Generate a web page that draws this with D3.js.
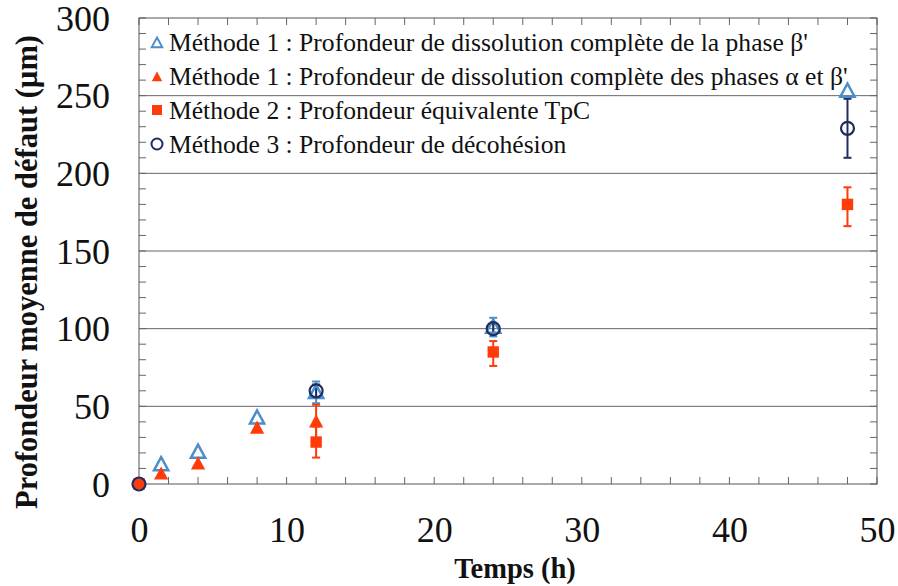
<!DOCTYPE html>
<html>
<head>
<meta charset="utf-8">
<script src="https://cdn.jsdelivr.net/npm/d3@7"></script>
<style>
  body { margin: 0; background: #fff; }
  svg text { font-family: "Liberation Serif", "Times New Roman", serif !important; }
</style>
</head>
<body>
<div id="chart"></div>
<script>
// data
var xTicks = [0, 10, 20, 30, 40, 50];
var yTicks = [0, 50, 100, 150, 200, 250, 300];

var tempsBeta = [1.5, 4, 8, 12, 24, 48];
var profBeta = [12.5, 20.5, 42.5, 59, 101, 253];
var errBeta = [0, 0, 0, 7, 6, 0];

var tempsAlpha = [1.5, 4, 8, 12];
var profAlpha = [6.5, 13, 36, 40];
var errAlpha = [0, 0, 0, 11];

var tempsTpc = [0, 12, 24, 48];
var profTpc = [0, 27, 85, 180];
var errTpcLow = [0, 10, 9, 14];
var errTpcHigh = [0, 10, 7, 11];

var tempsDeco = [0, 12, 24, 48];
var profDeco = [0, 60, 100, 229];
var errDeco = [0, 4, 3, 19];

var legendLabels = [
  "Méthode 1 : Profondeur de dissolution complète de la phase β'",
  "Méthode 1 : Profondeur de dissolution complète des phases α et β'",
  "Méthode 2 : Profondeur équivalente TpC",
  "Méthode 3 : Profondeur de décohésion"
];

var W = 898, H = 586;
var margin = {left: 139, right: 21, top: 18, bottom: 102};
var blue = "#4a8fcc", red = "#ff3b0a", navy = "#1f2d5f";

var svg = d3.select("#chart").append("svg")
  .attr("width", W).attr("height", H);

var x = d3.scaleLinear().domain([0, 50]).range([margin.left, W - margin.right]);
var y = d3.scaleLinear().domain([0, 300]).range([H - margin.bottom, margin.top]);

// gridlines
svg.append("g").selectAll("line")
  .data(yTicks.slice(1, -1))
  .enter().append("line")
  .attr("x1", x(0)).attr("x2", x(50))
  .attr("y1", function(d) { return y(d); })
  .attr("y2", function(d) { return y(d); })
  .attr("stroke", "#666").attr("stroke-width", 1);

// inner ticks on all four sides
var minorX = d3.range(0, 51, 2), minorY = d3.range(0, 301, 10);
var tickG = svg.append("g").attr("stroke", "#666").attr("stroke-width", 1);
minorX.forEach(function(t) {
  tickG.append("line").attr("x1", x(t)).attr("x2", x(t)).attr("y1", y(0)).attr("y2", y(0) - 7);
  tickG.append("line").attr("x1", x(t)).attr("x2", x(t)).attr("y1", y(300)).attr("y2", y(300) + 7);
});
minorY.forEach(function(t) {
  tickG.append("line").attr("x1", x(0)).attr("x2", x(0) + 7).attr("y1", y(t)).attr("y2", y(t));
  tickG.append("line").attr("x1", x(50)).attr("x2", x(50) - 7).attr("y1", y(t)).attr("y2", y(t));
});

// frame
svg.append("rect")
  .attr("x", x(0)).attr("y", y(300))
  .attr("width", x(50) - x(0)).attr("height", y(0) - y(300))
  .attr("fill", "none").attr("stroke", "#555").attr("stroke-width", 1);

// tick labels through d3 axes
var xAxis = svg.append("g")
  .attr("transform", "translate(0," + y(0) + ")")
  .call(d3.axisBottom(x).tickValues(xTicks).tickSize(0).tickPadding(0));
xAxis.select(".domain").remove();
xAxis.selectAll(".tick text")
  .attr("y", null).attr("dy", null)
  .attr("transform", "translate(0,58)")
  .attr("font-size", 36).attr("fill", "#111");

var yAxis = svg.append("g")
  .attr("transform", "translate(" + x(0) + ",0)")
  .call(d3.axisLeft(y).tickValues(yTicks).tickSize(0).tickPadding(0));
yAxis.select(".domain").remove();
yAxis.selectAll(".tick text")
  .attr("x", null).attr("dy", null)
  .attr("transform", "translate(-29,12)")
  .attr("font-size", 36).attr("fill", "#111");

svg.append("text")
  .attr("transform", "translate(" + ((x(0) + x(50)) / 2 + 7) + ",578) scale(0.95,1)")
  .attr("text-anchor", "middle").attr("font-size", 30).attr("font-weight", "bold")
  .attr("fill", "#111")
  .text("Temps (h)");

svg.append("text")
  .attr("transform", "translate(37,272) rotate(-90)")
  .attr("text-anchor", "middle").attr("font-size", 30.5).attr("font-weight", "bold")
  .attr("fill", "#111")
  .text("Profondeur moyenne de défaut (µm)");

// error bars
function errorBars(xs, ys, lo, hi, color, w) {
  var g = svg.append("g").attr("stroke", color).attr("stroke-width", w);
  xs.forEach(function(t, i) {
    if (!lo[i] && !hi[i]) return;
    var y1 = y(ys[i] - lo[i]), y2 = y(ys[i] + hi[i]), cx = x(t);
    g.append("line").attr("x1", cx).attr("x2", cx).attr("y1", y1).attr("y2", y2);
    g.append("line").attr("x1", cx - 4).attr("x2", cx + 4).attr("y1", y1).attr("y2", y1);
    g.append("line").attr("x1", cx - 4).attr("x2", cx + 4).attr("y1", y2).attr("y2", y2);
  });
}
errorBars(tempsBeta, profBeta, errBeta, errBeta, blue, 2);
errorBars(tempsAlpha, profAlpha, errAlpha, errAlpha, red, 2);
errorBars(tempsTpc, profTpc, errTpcLow, errTpcHigh, red, 2);
errorBars(tempsDeco, profDeco, errDeco, errDeco, navy, 2);

var sq = d3.symbol().type(d3.symbolSquare).size(130);

function triPath(s) {
  return "M0," + (-s) + "L" + (s * 0.95) + "," + (s * 0.75) + "L" + (-s * 0.95) + "," + (s * 0.75) + "Z";
}

// markers
svg.append("g").selectAll("path")
  .data(tempsBeta.map(function(t, i) { return [t, profBeta[i]]; }))
  .enter().append("path")
  .attr("d", triPath(7.5))
  .attr("transform", function(d) { return "translate(" + x(d[0]) + "," + y(d[1]) + ")"; })
  .attr("fill", "none").attr("stroke", blue).attr("stroke-width", 2.5);

svg.append("g").selectAll("path")
  .data(tempsAlpha.map(function(t, i) { return [t, profAlpha[i]]; }))
  .enter().append("path")
  .attr("d", triPath(7.5))
  .attr("transform", function(d) { return "translate(" + x(d[0]) + "," + y(d[1]) + ")"; })
  .attr("fill", red);

svg.append("g").selectAll("path")
  .data(tempsTpc.map(function(t, i) { return [t, profTpc[i]]; }))
  .enter().append("path")
  .attr("d", sq)
  .attr("transform", function(d) { return "translate(" + x(d[0]) + "," + y(d[1]) + ")"; })
  .attr("fill", red);

svg.append("g").selectAll("circle")
  .data(tempsDeco.map(function(t, i) { return [t, profDeco[i]]; }))
  .enter().append("circle")
  .attr("cx", function(d) { return x(d[0]); })
  .attr("cy", function(d) { return y(d[1]); })
  .attr("r", 6.5)
  .attr("fill", "none").attr("stroke", navy).attr("stroke-width", 2.2);

// legend
var legY = [42, 76, 110, 144];
var leg = svg.append("g");
legendLabels.forEach(function(lbl, i) {
  var cx = 157, cy = legY[i];
  if (i === 0) {
    leg.append("path").attr("d", triPath(5.5)).attr("transform", "translate(" + cx + "," + (cy + 1) + ")")
      .attr("fill", "none").attr("stroke", blue).attr("stroke-width", 2);
  } else if (i === 1) {
    leg.append("path").attr("d", triPath(5.5)).attr("transform", "translate(" + cx + "," + (cy + 1) + ")")
      .attr("fill", red);
  } else if (i === 2) {
    leg.append("rect").attr("x", cx - 5).attr("y", cy - 5).attr("width", 10).attr("height", 10).attr("fill", red);
  } else {
    leg.append("circle").attr("cx", cx).attr("cy", cy).attr("r", 5.5)
      .attr("fill", "none").attr("stroke", navy).attr("stroke-width", 2);
  }
  leg.append("text").attr("x", 169).attr("y", cy + 9)
    .attr("font-size", 25.6).attr("fill", "#111").text(lbl);
});
</script>
</body>
</html>
